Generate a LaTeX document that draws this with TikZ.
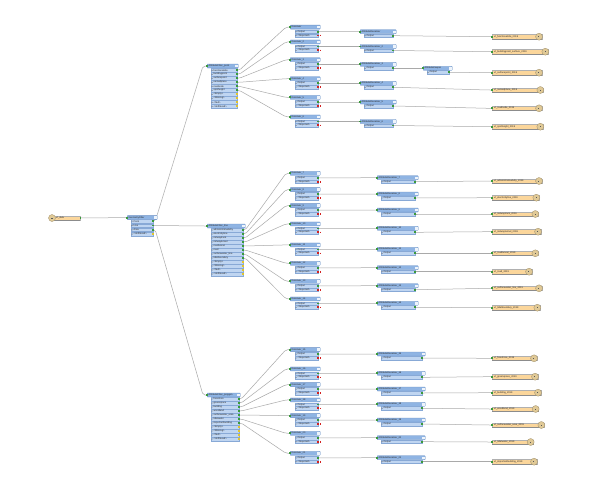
\documentclass[tikz,border=0pt]{standalone}
\usepackage{fontspec}
\setmainfont{Liberation Sans}
\usetikzlibrary{calc}
\pgfdeclarelayer{bg}
\pgfdeclarelayer{paper}
\pgfsetlayers{paper,bg,main}
\definecolor{hdrblue}{HTML}{8FB4E3}
\definecolor{hdrline}{HTML}{6A90C4}
\definecolor{rowblue}{HTML}{BFD5F1}
\definecolor{rowline}{HTML}{88A9D6}
\definecolor{wfill}{HTML}{FBD69B}
\definecolor{wline}{HTML}{B0B0B0}
\definecolor{wicon}{HTML}{E0C996}
\definecolor{pgreen}{HTML}{3A9A3A}
\definecolor{pyellow}{HTML}{E3C52A}
\definecolor{pred}{HTML}{D22222}
\definecolor{conn}{HTML}{A9A9A9}
\tikzset{
  tinyf/.style={font=\fontsize{2.4}{2.6}\selectfont, text=black!85},
  hdr/.style={fill=hdrblue, draw=hdrline, line width=0.3pt, rounded corners=0.5pt, minimum height=4pt, inner sep=0pt, anchor=west},
  rowb/.style={fill=rowblue, draw=rowline, line width=0.25pt, minimum height=3.6pt, inner sep=0pt, anchor=west},
  gp/.style={fill=pgreen, minimum width=1.6pt, minimum height=1.9pt, inner sep=0pt},
  yp/.style={gp, fill=pyellow},
  rp/.style={gp, fill=pred},
  pst/.code={\edef\fmetmp{#1}\expandafter\tikzset\expandafter{\fmetmp}},
  cn/.style={draw=conn, line width=0.5pt, rounded corners=2pt},
  wbar/.style={fill=wfill, draw=wline, line width=0.35pt, minimum height=4.4pt, inner sep=0pt, anchor=west},
  wico/.style={circle, fill=wicon, draw=wicon!70!black, line width=0.3pt, minimum size=7pt, inner sep=0pt},
  lbl/.style={tinyf, anchor=west, inner sep=0pt},
}
% header: name x1 x2 y label
\newcommand{\fmehead}[5]{%
  \node[hdr, minimum width={(#3)-(#2)}] (#1) at ({#2},{#4}) {};
  \node[lbl, xshift=1.3pt] at (#1.west) {#5};
  \fill[white!85!hdrblue] ([xshift=-3.2pt,yshift=-1.2pt]#1.east) rectangle ([xshift=-0.8pt,yshift=1.2pt]#1.east);
  \node[gp] (#1-in) at (#1.west) {};
}
% row: name x1 x2 y label porttype
\newcommand{\fmerow}[6]{%
  \node[rowb, minimum width={(#3)-(#2)}] (#1) at ({#2},{#4}) {};
  \node[lbl, xshift=2.4pt] at (#1.west) {#5};
  \draw[line width=0.15pt, draw=black!55] ([xshift=1.1pt]#1.west) circle (0.5pt);
  \node[pst=#6] (#1-p) at (#1.east) {};
}
% tester: name y label
\newcommand{\fmetester}[3]{%
  \fmehead{#1}{290}{320}{#2}{#3}
  \fmerow{#1-a}{295}{318}{#2+4.6}{Output}{gp}
  \fmerow{#1-b}{295}{318}{#2+8.4}{<Rejected>}{rp}
  \draw[pred, line width=0.4pt] ([xshift=1.3pt]#1-b-p.center) -- ([xshift=2.9pt]#1-b-p.center)
    ([xshift=2.1pt,yshift=0.8pt]#1-b-p.center) -- ([xshift=2.1pt,yshift=-0.8pt]#1-b-p.center);
}
% renamer-like: name x1 x2 y label
\newcommand{\fmerenamer}[5]{%
  \fmehead{#1}{#2}{#3}{#4}{#5}
  \fmerow{#1-a}{#2+4}{#3-3}{#4+4}{Output}{gp}
}
% writer: name x2 y label
\newcommand{\fmewriter}[4]{%
  \node[wbar, minimum width={(#2)-492}] (#1) at (492,{#3}) {};
  \draw[black!45, line width=0.5pt] (#1.south west) -- (#1.south east);
  \node[lbl, xshift=2pt] at (#1.west) {#4};
  \node[wico] (#1-c) at ([xshift=-3pt]#1.east) {};
  \fill[black!65] ([xshift=-0.8pt,yshift=-0.6pt]#1-c.center) rectangle ([xshift=0.4pt,yshift=0.4pt]#1-c.center);
  \node[gp] (#1-in) at (#1.west) {};
}
% connector: source port, target port
\newcommand{\fmelink}[2]{%
  \draw[cn] (#1.center) -- ([xshift=2pt]#1.center) -- ([xshift=-4pt]#2.center) -- (#2.center);
}
\begin{document}
\begin{tikzpicture}[x=1pt,y=-1pt]
\begin{pgfonlayer}{paper}
\fill[white] (0,0) rectangle (592,498);
\end{pgfonlayer}
\useasboundingbox (0,0) rectangle (592,498);

% reader
\node[wbar, minimum width=30] (rd) at (50,218) {};
\draw[black!45, line width=0.5pt] (rd.south west) -- (rd.south east);
\node[lbl, xshift=6pt] at (rd.west) {vt\_data};
\node[wico] (rd-c) at ([xshift=2pt]rd.west) {};
\fill[black!65] ([xshift=-0.7pt,yshift=-0.7pt]rd-c.center) rectangle ([xshift=0.5pt,yshift=0.5pt]rd-c.center);
\node[gp] (rd-p) at (rd.east) {};

% hub
\fmehead{hub}{127}{157}{217.6}{GeometryFilter}
\fmerow{hub-1}{131}{153}{221.2}{Point}{gp}
\fmerow{hub-2}{131}{153}{225.5}{Line}{gp}
\fmerow{hub-3}{131}{153}{229.8}{Area}{gp}
\fmerow{hub-4}{131}{153}{234.1}{<Unfiltered>}{yp}

% filters
\fmehead{fA}{207}{238}{66}{AttributeFilter\_point}
\foreach \i/\lab/\pt in {1/functionalsite/gp,2/buildingpoint/gp,3/surfacepoint/gp,4/namedplace/gp,5/roadnode/gp,6/spotheight/gp,7/<Empty>/yp,8/<Missing>/yp,9/<Null>/yp,10/<Unfiltered>/yp}
  {\fmerow{fA-\i}{211}{237}{70.3+4*(\i-1)}{\lab}{\pt}}

\fmehead{fB}{207}{245}{226}{AttributeFilter\_line}
\foreach \i/\lab/\pt in {1/administrativebdry/gp,2/electricityline/gp,3/railwaytrack/gp,4/railwaytunnel/gp,5/roadtunnel/gp,6/road/gp,7/surfacewater\_line/gp,8/tidalboundary/gp,9/<Empty>/yp,10/<Missing>/yp,11/<Null>/yp,12/<Unfiltered>/yp}
  {\fmerow{fB-\i}{211}{243}{230+4*(\i-1)}{\lab}{\pt}}

\fmehead{fC}{207}{240}{395}{AttributeFilter\_polygon}
\foreach \i/\lab/\pt in {1/foreshore/gp,2/greenspace/gp,3/building/gp,4/woodland/gp,5/surfacewater\_area/gp,6/tidalwater/gp,7/importantbuilding/gp,8/<Empty>/yp,9/<Missing>/yp,10/<Null>/yp,11/<Unfiltered>/yp}
  {\fmerow{fC-\i}{211}{239}{399+4*(\i-1)}{\lab}{\pt}}

% testers
\fmetester{t1}{27.1}{Dissolver}
\fmetester{t2}{41.9}{Dissolver\_2}
\fmetester{t3}{59.7}{Dissolver\_3}
\fmetester{t4}{78.7}{Dissolver\_4}
\fmetester{t5}{97.4}{Dissolver\_5}
\fmetester{t6}{116.9}{Dissolver\_6}
\fmetester{t7}{173.3}{Dissolver\_7}
\fmetester{t8}{189.6}{Dissolver\_8}
\fmetester{t9}{205.6}{Dissolver\_9}
\fmetester{t10}{223.9}{Dissolver\_10}
\fmetester{t11}{244.9}{Dissolver\_11}
\fmetester{t12}{263.3}{Dissolver\_12}
\fmetester{t13}{281.3}{Dissolver\_13}
\fmetester{t14}{298.9}{Dissolver\_14}
\fmetester{t15}{349.6}{Dissolver\_15}
\fmetester{t16}{368.9}{Dissolver\_16}
\fmetester{t17}{384.6}{Dissolver\_17}
\fmetester{t18}{399.9}{Dissolver\_18}
\fmetester{t19}{415.6}{Dissolver\_19}
\fmetester{t20}{433.3}{Dissolver\_20}
\fmetester{t21}{453.3}{Dissolver\_21}

% renamers
\fmerenamer{r1}{360}{396}{31.7}{AttributeRenamer}
\fmerenamer{r2}{360}{396}{46.5}{AttributeRenamer\_2}
\fmerenamer{r3}{360}{396}{64.3}{AttributeRenamer\_3}
\fmerenamer{r4}{360}{396}{83.3}{AttributeRenamer\_4}
\fmerenamer{r5}{360}{396}{102}{AttributeRenamer\_5}
\fmerenamer{r6}{360}{396}{121.5}{AttributeRenamer\_6}
\fmerenamer{r7}{377}{418}{177.7}{AttributeRenamer\_7}
\fmerenamer{r8}{377}{418}{194}{AttributeRenamer\_8}
\fmerenamer{r9}{377}{418}{210}{AttributeRenamer\_9}
\fmerenamer{r10}{377}{418}{228.3}{AttributeRenamer\_10}
\fmerenamer{r11}{377}{418}{249.3}{AttributeRenamer\_11}
\fmerenamer{r12}{377}{418}{267.7}{AttributeRenamer\_12}
\fmerenamer{r13}{377}{418}{285.7}{AttributeRenamer\_13}
\fmerenamer{r14}{377}{418}{303.3}{AttributeRenamer\_14}
\fmerenamer{r15}{377}{425}{354}{AttributeRenamer\_15}
\fmerenamer{r16}{377}{425}{373.3}{AttributeRenamer\_16}
\fmerenamer{r17}{377}{425}{389}{AttributeRenamer\_17}
\fmerenamer{r18}{377}{425}{404.3}{AttributeRenamer\_18}
\fmerenamer{r19}{377}{425}{420}{AttributeRenamer\_19}
\fmerenamer{r20}{377}{425}{437.7}{AttributeRenamer\_20}
\fmerenamer{r21}{377}{425}{457.7}{AttributeRenamer\_21}
\fmerenamer{k}{423}{452}{68.3}{AttributeKeeper}

% writers
\fmewriter{w1}{541.7}{36.7}{vt\_functionalsite\_2019}
\fmewriter{w2}{548}{51.7}{vt\_buildingpoint\_surface\_2019}
\fmewriter{w3}{541.7}{72.7}{vt\_surfacepoint\_2019}
\fmewriter{w4}{543}{90}{vt\_namedplace\_2019}
\fmewriter{w5}{541.7}{108.3}{vt\_roadnode\_2019}
\fmewriter{w6}{543}{126.7}{vt\_spotheight\_2019}
\fmewriter{w7}{541.7}{181}{vt\_administrativebdry\_2019}
\fmewriter{w8}{539}{197.7}{vt\_electricityline\_2019}
\fmewriter{w9}{538}{214}{vt\_railwaytrack\_2019}
\fmewriter{w10}{540.7}{231.7}{vt\_railwaytunnel\_2019}
\fmewriter{w11}{538}{253.3}{vt\_roadtunnel\_2019}
\fmewriter{w12}{531.7}{271.7}{vt\_road\_2019}
\fmewriter{w13}{541.7}{288.3}{vt\_surfacewater\_line\_2019}
\fmewriter{w14}{540}{307.7}{vt\_tidalboundary\_2019}
\fmewriter{w15}{536.7}{358.3}{vt\_foreshore\_2019}
\fmewriter{w16}{537.7}{376.7}{vt\_greenspace\_2019}
\fmewriter{w17}{540.7}{392.7}{vt\_building\_2019}
\fmewriter{w18}{538.3}{409}{vt\_woodland\_2019}
\fmewriter{w19}{544}{425}{vt\_surfacewater\_area\_2019}
\fmewriter{w20}{533.3}{442}{vt\_tidalwater\_2019}
\fmewriter{w21}{536.7}{461.7}{vt\_importantbuilding\_2019}

% connectors
\begin{pgfonlayer}{bg}
\fmelink{rd-p}{hub-in}
\fmelink{hub-1-p}{fA-in}
\fmelink{hub-2-p}{fB-in}
\fmelink{hub-3-p}{fC-in}
\foreach \i in {1,...,6} {\fmelink{fA-\i-p}{t\i-in}}
\foreach \i [evaluate=\i as \j using int(\i+6)] in {1,...,8} {\fmelink{fB-\i-p}{t\j-in}}
\foreach \i [evaluate=\i as \j using int(\i+14)] in {1,...,7} {\fmelink{fC-\i-p}{t\j-in}}
\foreach \i in {1,...,21} {\fmelink{t\i-a-p}{r\i-in}}
\foreach \i in {1,2,4,5,6,7,8,9,10,11,12,13,14,15,16,17,18,19,20,21} {\fmelink{r\i-a-p}{w\i-in}}
\fmelink{r3-a-p}{k-in}
\fmelink{k-a-p}{w3-in}
\end{pgfonlayer}
\end{tikzpicture}
\end{document}
